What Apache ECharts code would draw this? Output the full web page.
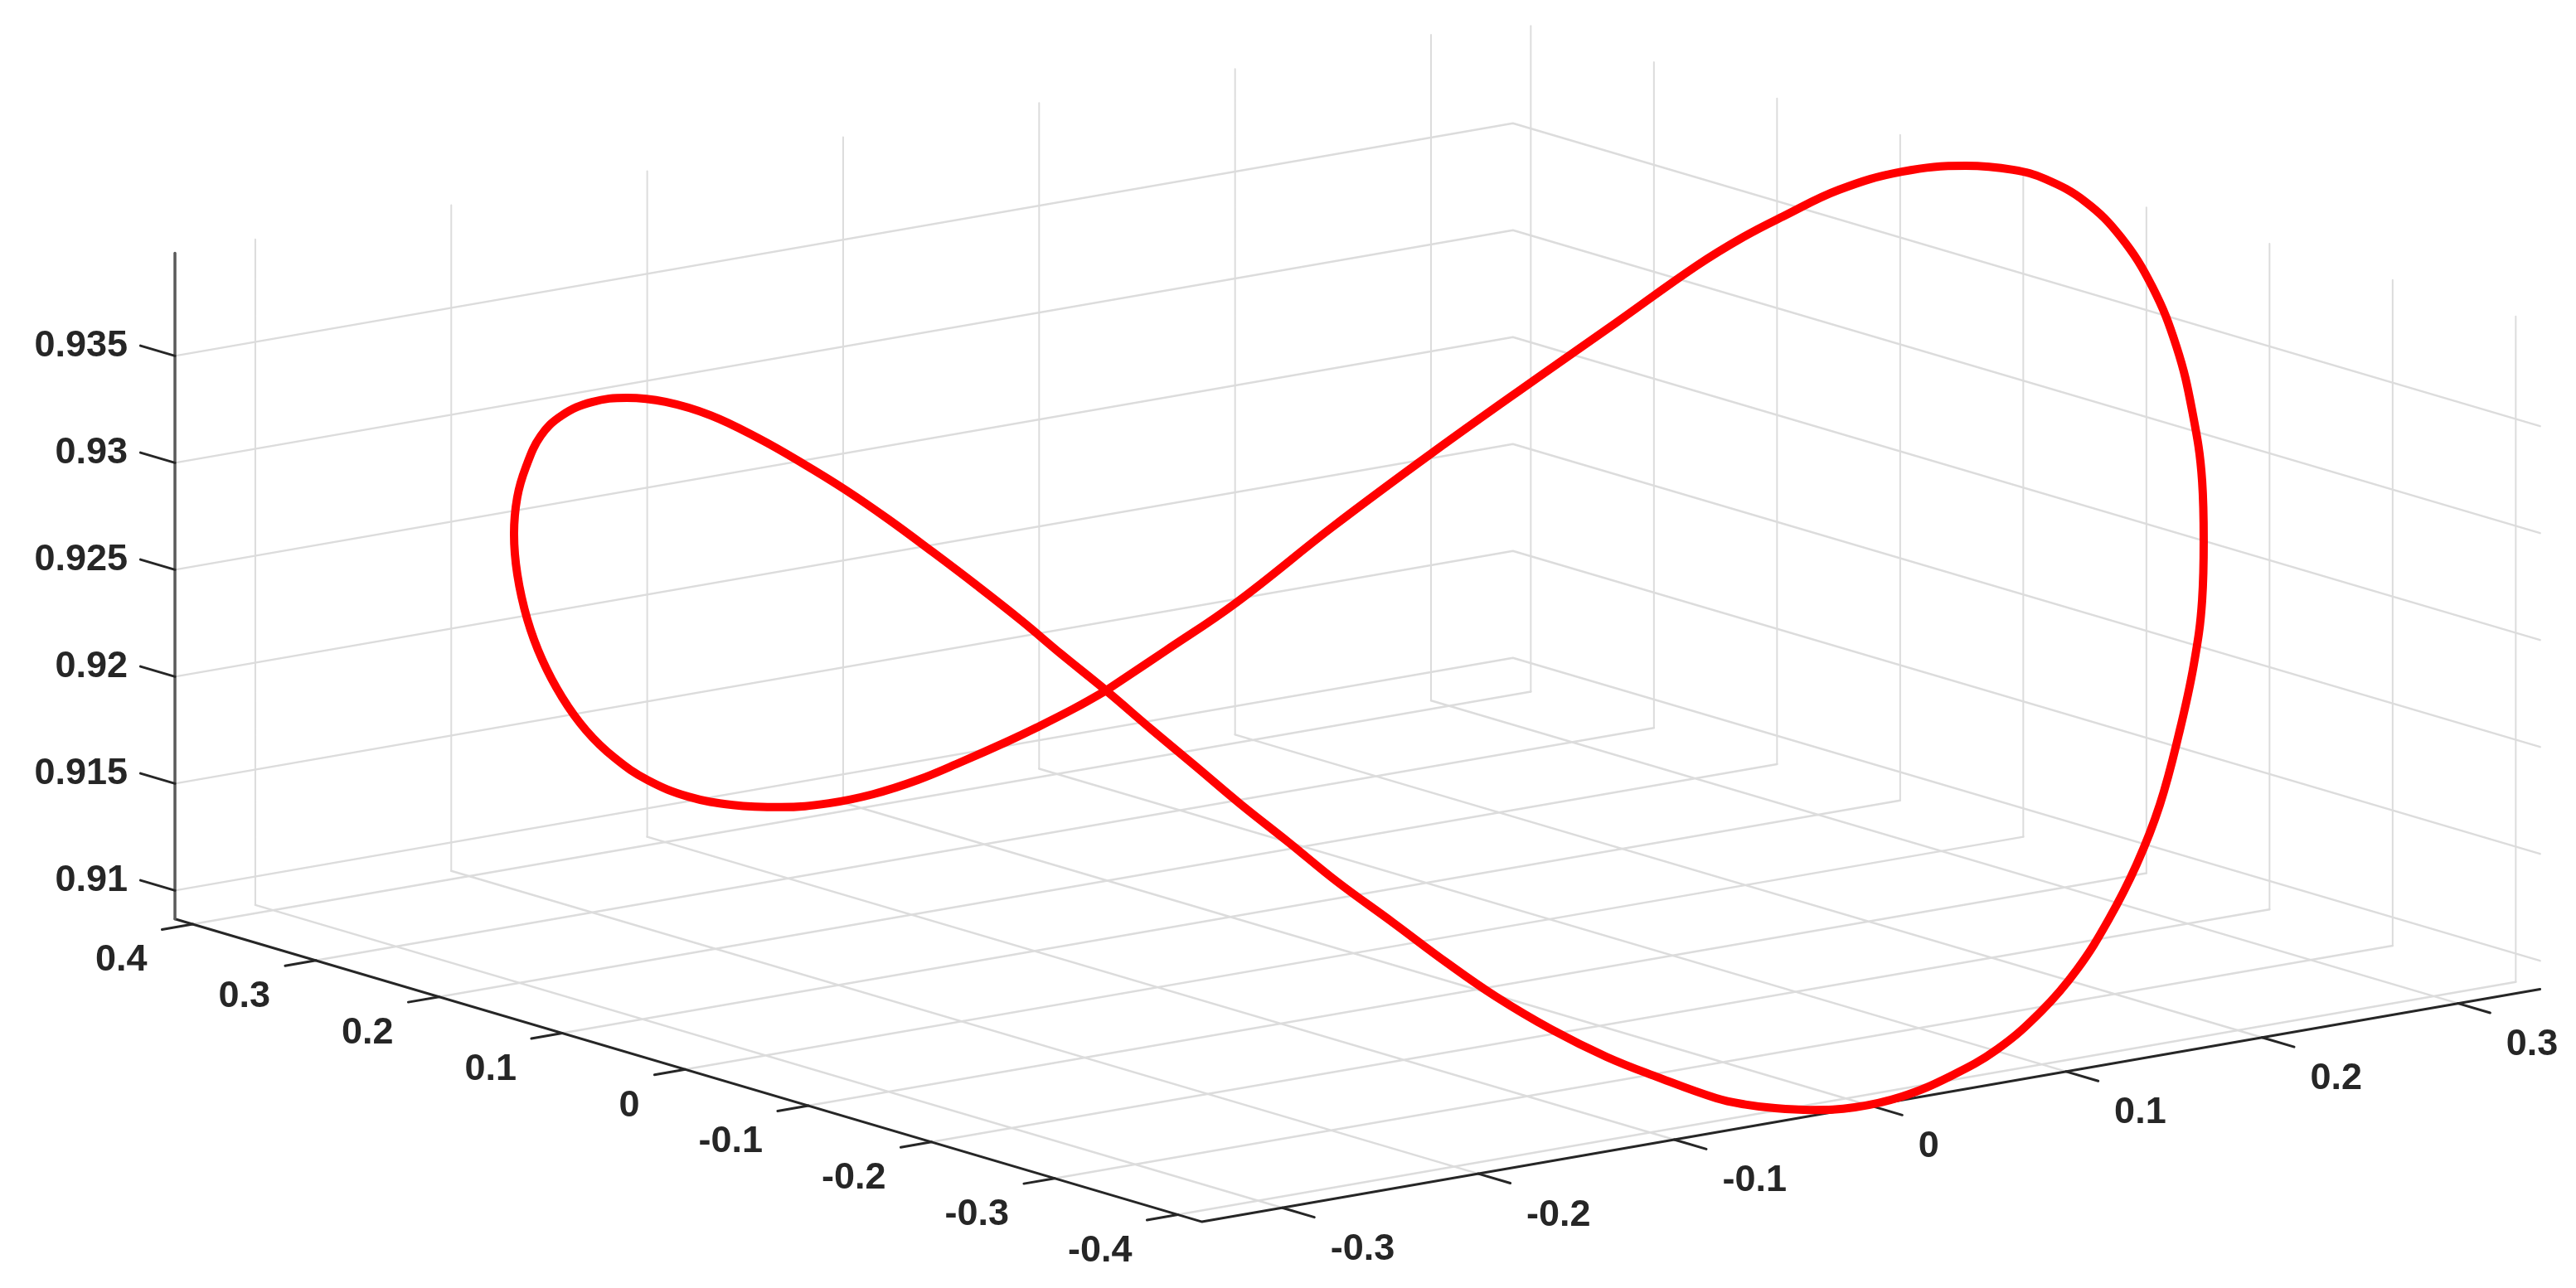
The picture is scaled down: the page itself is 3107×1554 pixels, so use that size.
<!DOCTYPE html>
<html><head><meta charset="utf-8">
<style>html,body{margin:0;padding:0;background:#fff}#c{width:3107px;height:1554px}</style>
<script src="https://cdn.jsdelivr.net/npm/echarts@6/dist/echarts.min.js"></script>
</head><body><div id="c"></div>
<script>
var xTicks=[-0.3,-0.2,-0.1,0,0.1,0.2,0.3];
var yTicks=[0.4,0.3,0.2,0.1,0,-0.1,-0.2,-0.3,-0.4];
var zTicks=[0.91,0.915,0.92,0.925,0.93,0.935];
var zLabels=['0.91','0.915','0.92','0.925','0.93','0.935'];
var xLim=[-0.341,0.3418],yLim=[-0.4197,0.4145],zLim=[0.90867,0.9398];
var curveX=[-0.0865,-0.0571,-0.0220,0.0291,0.0811,0.1337,0.1743,0.2146,0.2371,0.2549,0.2790,0.3025,0.3223,0.3343,0.3405,0.3446,0.3433,0.3364,0.3242,0.3083,0.2885,0.2702,0.2508,0.2279,0.2019,0.1738,0.1483,0.1227,0.0980,0.0748,0.0503,0.0283,0.0084,-0.0083,-0.0215,-0.0310,-0.0382,-0.0444,-0.0544,-0.0621,-0.0690,-0.0741,-0.0771,-0.0796,-0.0823,-0.0834,-0.0848,-0.0854,-0.0861,-0.0865,-0.0876,-0.0882,-0.0895,-0.0913,-0.0934,-0.0961,-0.0998,-0.1042,-0.1104,-0.1188,-0.1284,-0.1396,-0.1522,-0.1648,-0.1790,-0.1909,-0.2034,-0.2154,-0.2268,-0.2355,-0.2418,-0.2456,-0.2463,-0.2441,-0.2379,-0.2280,-0.2152,-0.2004,-0.1851,-0.1680,-0.1498,-0.1309,-0.1180,-0.1015,-0.0865];
var curveY=[0.0633,0.0617,0.0603,0.0635,0.0647,0.0643,0.0636,0.0631,0.0606,0.0566,0.0498,0.0360,0.0157,-0.0036,-0.0200,-0.0458,-0.0768,-0.1134,-0.1524,-0.1904,-0.2301,-0.2605,-0.2901,-0.3198,-0.3492,-0.3783,-0.4001,-0.4179,-0.4316,-0.4396,-0.4429,-0.4395,-0.4321,-0.4203,-0.4056,-0.3918,-0.3790,-0.3653,-0.3327,-0.3045,-0.2704,-0.2334,-0.1991,-0.1586,-0.1171,-0.0799,-0.0431,-0.0082,0.0270,0.0633,0.0980,0.1293,0.1636,0.1964,0.2295,0.2596,0.2887,0.3173,0.3465,0.3696,0.3858,0.3964,0.4006,0.3979,0.3874,0.3754,0.3581,0.3363,0.3101,0.2841,0.2580,0.2324,0.2083,0.1849,0.1617,0.1412,0.1225,0.1071,0.0957,0.0865,0.0797,0.0735,0.0698,0.0658,0.0633];
var curveZ=[0.92126,0.92268,0.92439,0.92706,0.9297,0.93232,0.93432,0.93632,0.93736,0.93811,0.93908,0.93979,0.94009,0.94004,0.93979,0.93911,0.938,0.9364,0.93447,0.93239,0.93005,0.92809,0.92612,0.92397,0.92167,0.91927,0.91726,0.91537,0.91367,0.91223,0.9109,0.90992,0.90917,0.90873,0.90857,0.90857,0.90864,0.9088,0.90941,0.90998,0.9108,0.91179,0.91281,0.91407,0.91534,0.91655,0.91773,0.91889,0.92005,0.92126,0.92239,0.92343,0.92452,0.92555,0.92657,0.92746,0.92827,0.92902,0.9297,0.93007,0.93014,0.92994,0.92945,0.92873,0.92766,0.92665,0.92545,0.9241,0.92264,0.92132,0.92012,0.91906,0.9182,0.91752,0.91704,0.91684,0.91685,0.91706,0.91743,0.91798,0.91866,0.91939,0.91991,0.9206,0.92126];
function P(x,y,z){return [1632.5+2363.5*x-1485*y,1150.1-411*x-438*y-25800*(z-zLim[0])];}
var curve=curveX.map(function(x,i){return P(x,curveY[i],curveZ[i]);});
function seg(list){var out=[];list.forEach(function(s){s.forEach(function(p){out.push(P(p[0],p[1],p[2]));});out.push([null,null]);});return out;}
var wallZ=zTicks.map(function(z){return [[xLim[0],yLim[1],z],[xLim[1],yLim[1],z],[xLim[1],yLim[0],z]];});
var floor=[];
xTicks.forEach(function(x){floor.push([[x,yLim[1],zLim[0]],[x,yLim[0],zLim[0]]]);});
yTicks.forEach(function(y){floor.push([[xLim[1],y,zLim[0]],[xLim[0],y,zLim[0]]]);});
var verts=[];
xTicks.forEach(function(x){verts.push([[x,yLim[1],zLim[0]],[x,yLim[1],zLim[1]]]);});
yTicks.forEach(function(y){verts.push([[xLim[1],y,zLim[0]],[xLim[1],y,zLim[1]]]);});
var axes=[[[xLim[0],yLim[1],zLim[0]],[xLim[0],yLim[0],zLim[0]],[xLim[1],yLim[0],zLim[0]]]];
var zAxis=[[[xLim[0],yLim[1],zLim[0]],[xLim[0],yLim[1],zLim[1]]]];
var ticks=[];
xTicks.forEach(function(x){ticks.push([[x,yLim[0],zLim[0]],[x,yLim[0]-0.026,zLim[0]]]);});
yTicks.forEach(function(y){ticks.push([[xLim[0],y,zLim[0]],[xLim[0]-0.0157,y,zLim[0]]]);});
zTicks.forEach(function(z){ticks.push([[xLim[0],yLim[1],z],[xLim[0],yLim[1]+0.028,z]]);});
function ln(name,data,color,width,z){return {name:name,type:'line',data:data,showSymbol:false,symbol:'none',connectNulls:false,clip:false,z:z,silent:true,lineStyle:{color:color,width:width,cap:'round',join:'round'},animation:false};}
var labelRows=[];
xTicks.forEach(function(x){labelRows.push({p:P(x,yLim[0],zLim[0]),t:String(x),dx:58,dy:50,a:'left'});});
yTicks.forEach(function(y){labelRows.push({p:P(xLim[0],y,zLim[0]),t:String(y),dx:-55,dy:44,a:'right'});});
zTicks.forEach(function(z,i){labelRows.push({p:P(xLim[0],yLim[1],z),t:zLabels[i],dx:-57,dy:-12,a:'right'});});
var chart=echarts.init(document.getElementById('c'),null,{renderer:'canvas'});
chart.setOption({animation:false,backgroundColor:'#fff',
grid:{left:0,right:0,top:0,bottom:0},
xAxis:{type:'value',min:0,max:3107,show:false},
yAxis:{type:'value',min:0,max:1554,inverse:true,show:false},
series:[
ln('verts',seg(verts),'#dcdcdc',2,1),
ln('wall',seg(wallZ),'#dcdcdc',2.5,1),
ln('floor',seg(floor),'#dcdcdc',2.5,1),
ln('axes',seg(axes),'#262626',3,3),
ln('zaxis',seg(zAxis),'#5a5a5a',3.5,3),
ln('ticks',seg(ticks),'#262626',3,3),
Object.assign(ln('curve',curve,'#ff0000',10,5),{smooth:0.4}),
{type:'custom',silent:true,z:6,clip:false,data:labelRows.map(function(r,i){return [r.p[0],r.p[1],i];}),encode:{x:0,y:1},
renderItem:function(params,api){var r=labelRows[api.value(2)];var c=api.coord([api.value(0),api.value(1)]);
return {type:'text',x:c[0]+r.dx,y:c[1]+r.dy,style:{text:r.t,fontFamily:'Liberation Sans',fontWeight:'bold',fontSize:45,fill:'#262626',align:r.a,verticalAlign:'middle'}};}}
]});
</script></body></html>
